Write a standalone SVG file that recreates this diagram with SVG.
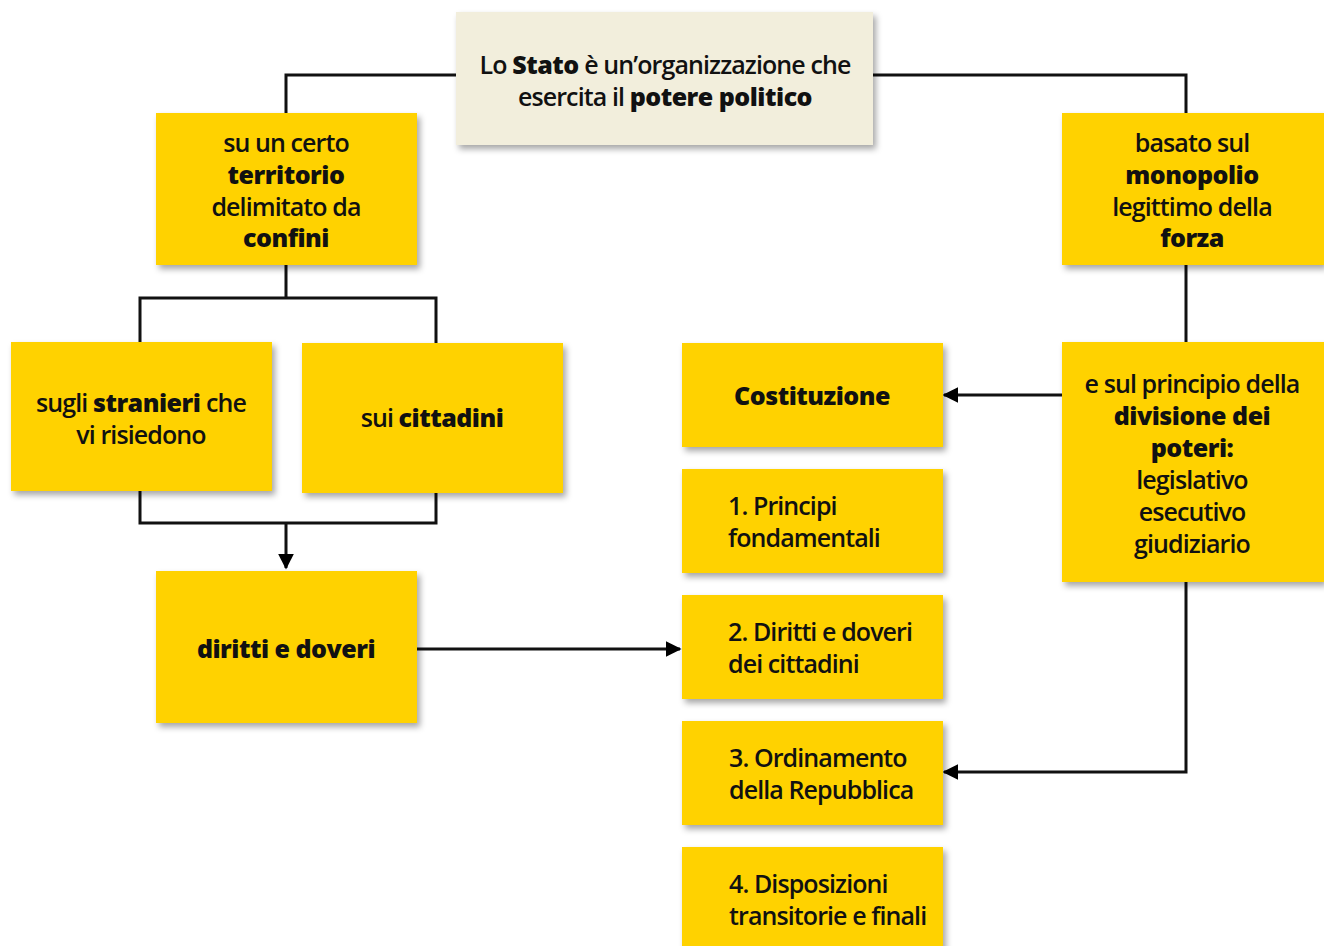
<svg xmlns="http://www.w3.org/2000/svg" width="1324" height="946" viewBox="0 0 1324 946">
<defs>
<filter id="sh" x="-10%" y="-10%" width="125%" height="130%">
<feDropShadow dx="3" dy="4" stdDeviation="3" flood-color="#000" flood-opacity="0.35"/>
</filter>
<marker id="ah" viewBox="0 0 10 10" refX="9" refY="5" markerWidth="16" markerHeight="16" markerUnits="userSpaceOnUse" orient="auto">
<path d="M0,0 L10,5 L0,10 z" fill="#000"/>
</marker>
<style>
.y{fill:#ffd200;filter:url(#sh)}
.c{fill:#f2eedc;filter:url(#sh)}
text{font-family:"Open Sans","Liberation Sans",sans-serif;font-size:25px;fill:#111;font-weight:600;letter-spacing:-0.9px}
.m{text-anchor:middle}
.b{font-weight:800;letter-spacing:-0.5px}
.ln{fill:none;stroke:#111;stroke-width:3}
</style>
</defs>
<rect width="1324" height="946" fill="#fff"/>
<g id="connectors">
<path class="ln" d="M456,75 H286 V113"/>
<path class="ln" d="M873,75 H1186 V113"/>
<path class="ln" d="M286,265 V298 M140,342 V298 H436 V343"/>
<path class="ln" d="M140,491 V523 H436 V493 M286,523 V568" marker-end="url(#ah)"/>
<path class="ln" d="M417,649 H680" marker-end="url(#ah)"/>
<path class="ln" d="M1186,265 V342"/>
<path class="ln" d="M1062,395 H944" marker-end="url(#ah)"/>
<path class="ln" d="M1186,582 V772 H944" marker-end="url(#ah)"/>
</g>
<g id="stato"><rect class="c" x="456" y="12" width="417" height="133"/>
<text class="m" x="665" y="74">Lo <tspan class="b">Stato</tspan> è un’organizzazione che</text>
<text class="m" x="665" y="106">esercita il <tspan class="b">potere politico</tspan></text></g>
<g id="territorio"><rect class="y" x="156" y="113" width="261" height="152"/>
<text class="m" x="286" y="152">su un certo</text>
<text class="m b" x="286" y="184">territorio</text>
<text class="m" x="286" y="216">delimitato da</text>
<text class="m b" x="286" y="247">confini</text></g>
<g id="monopolio"><rect class="y" x="1062" y="113" width="262" height="152"/>
<text class="m" x="1192" y="152">basato sul</text>
<text class="m b" x="1192" y="184">monopolio</text>
<text class="m" x="1192" y="216">legittimo della</text>
<text class="m b" x="1192" y="247">forza</text></g>
<g id="stranieri"><rect class="y" x="11" y="342" width="261" height="149"/>
<text class="m" x="141" y="412">sugli <tspan class="b">stranieri</tspan> che</text>
<text class="m" x="141" y="444">vi risiedono</text></g>
<g id="cittadini"><rect class="y" x="302" y="343" width="261" height="150"/>
<text class="m" x="432" y="427">sui <tspan class="b">cittadini</tspan></text></g>
<g id="diritti"><rect class="y" x="156" y="571" width="261" height="152"/>
<text class="m b" x="286" y="658">diritti e doveri</text></g>
<g id="costituzione"><rect class="y" x="682" y="343" width="261" height="104"/>
<text class="m b" x="812" y="405">Costituzione</text></g>
<g id="principi"><rect class="y" x="682" y="469" width="261" height="104"/>
<text x="728" y="515">1. Principi</text>
<text x="728" y="547">fondamentali</text></g>
<g id="dirittidoveri"><rect class="y" x="682" y="595" width="261" height="104"/>
<text x="728" y="641">2. Diritti e doveri</text>
<text x="728" y="673">dei cittadini</text></g>
<g id="ordinamento"><rect class="y" x="682" y="721" width="261" height="104"/>
<text x="729" y="767">3. Ordinamento</text>
<text x="729" y="799">della Repubblica</text></g>
<g id="disposizioni"><rect class="y" x="682" y="847" width="261" height="110"/>
<text x="729" y="893">4. Disposizioni</text>
<text x="729" y="925">transitorie e finali</text></g>
<g id="divisione"><rect class="y" x="1062" y="342" width="262" height="240"/>
<text class="m" x="1192" y="393">e sul principio della</text>
<text class="m b" x="1192" y="425">divisione dei</text>
<text class="m b" x="1192" y="457">poteri:</text>
<text class="m" x="1192" y="489">legislativo</text>
<text class="m" x="1192" y="521">esecutivo</text>
<text class="m" x="1192" y="553">giudiziario</text></g>
</svg>
